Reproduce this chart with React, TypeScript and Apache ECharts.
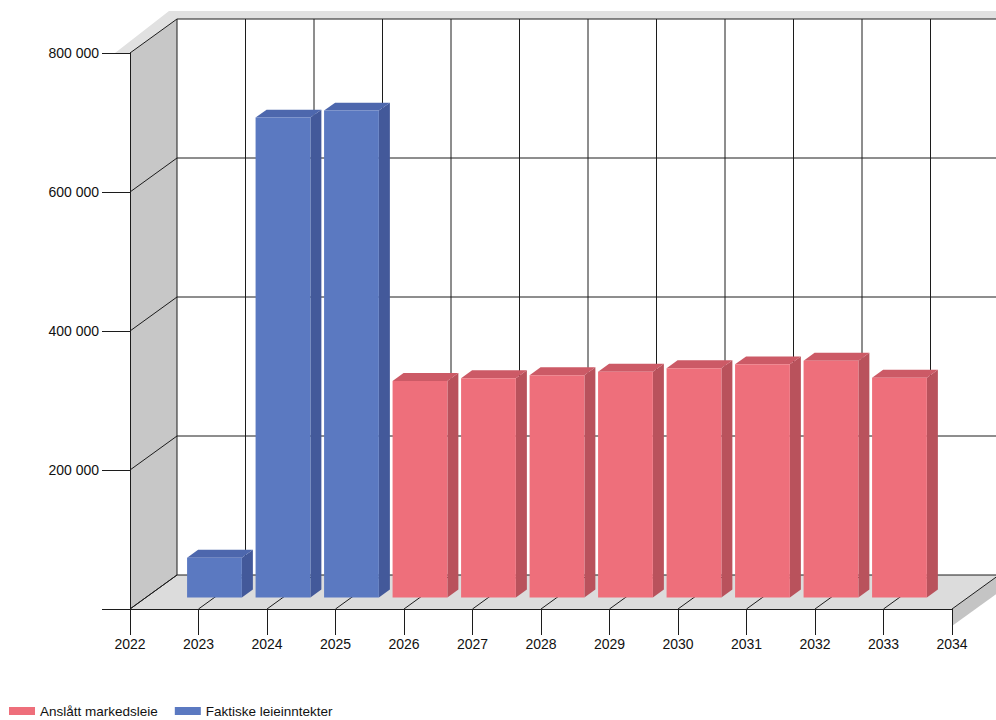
import React, { useEffect, useRef } from 'react';
import * as echarts from 'echarts';

// Year axis bounds and value axis ticks
const xMin = 2022;
const xMax = 2034;
const yMin = 0;
const yMax = 800000;
const yStep = 200000;

// Series values
const actualIncomeYears = [2023, 2024, 2025];
const actualIncome = [57000, 690400, 700500];
const marketRentYears = [2026, 2027, 2028, 2029, 2030, 2031, 2032, 2033];
const marketRent = [311400, 315300, 319600, 324800, 329700, 335400, 340600, 316100];

const seriesNames = ['Anslått markedsleie', 'Faktiske leieinntekter'];

// Pseudo-3D projection of the depth axis
const DEPTH_X = 47;
const DEPTH_Y = -34;
const BAR_FRONT = 0.34;
const BAR_BACK = 0.574;
const BAR_WIDTH = 0.8;

const LINE = '#1c1c1c';
const FONT = "'Liberation Sans', Arial, sans-serif";

const palette = {
  red: { front: '#ee6f7b', side: '#b9525c', top: '#cc5a66' },
  blue: { front: '#5b79c1', side: '#43599a', top: '#4d67ad' },
};

function formatThousands(v: number): string {
  if (v === 0) return '';
  return String(v).replace(/\B(?=(\d{3})+(?!\d))/g, ' ');
}

function rangeStep(a: number, b: number, s: number): number[] {
  const out: number[] = [];
  for (let v = a; v <= b + 1e-9; v += s) out.push(v);
  return out;
}

function renderFrame(_params: any, api: any) {
  const [x0, y0] = api.coord([xMin, yMin]);
  const [x1, yTop] = api.coord([xMax, yMax]);
  const children: any[] = [];
  const ln = (a: number[], b: number[]) => ({
    type: 'line',
    shape: { x1: a[0], y1: a[1], x2: b[0], y2: b[1] },
    style: { stroke: LINE, lineWidth: 1 },
  });

  // top rim of the walls
  children.push({
    type: 'polygon',
    shape: {
      points: [
        [x0 - 15, yTop],
        [x0, yTop],
        [x0 + DEPTH_X, yTop + DEPTH_Y],
        [x1 + DEPTH_X + 10, yTop + DEPTH_Y],
        [x1 + DEPTH_X + 10, yTop + DEPTH_Y - 8],
        [x0 + DEPTH_X - 8, yTop + DEPTH_Y - 8],
      ],
    },
    style: { fill: '#e1e1e1' },
  });
  // left wall
  children.push({
    type: 'polygon',
    shape: {
      points: [
        [x0, yTop],
        [x0 + DEPTH_X, yTop + DEPTH_Y],
        [x0 + DEPTH_X, y0 + DEPTH_Y],
        [x0, y0],
      ],
    },
    style: { fill: '#c7c7c7' },
  });
  // floor
  children.push({
    type: 'polygon',
    shape: {
      points: [
        [x0, y0],
        [x0 + DEPTH_X, y0 + DEPTH_Y],
        [x1 + DEPTH_X, y0 + DEPTH_Y],
        [x1, y0],
      ],
    },
    style: { fill: '#dcdcdc' },
  });
  // floor side thickness
  children.push({
    type: 'polygon',
    shape: {
      points: [
        [x1, y0],
        [x1 + DEPTH_X, y0 + DEPTH_Y],
        [x1 + DEPTH_X, y0 + DEPTH_Y + 17],
        [x1, y0 + 17],
      ],
    },
    style: { fill: '#c4c4c4' },
  });

  // back wall grid + left wall diagonals
  for (const v of rangeStep(yMin, yMax, yStep)) {
    const p = api.coord([xMin, v]);
    const q = api.coord([xMax, v]);
    children.push(ln([p[0] + DEPTH_X, p[1] + DEPTH_Y], [q[0] + DEPTH_X + 10, q[1] + DEPTH_Y]));
    children.push(ln(p, [p[0] + DEPTH_X, p[1] + DEPTH_Y]));
  }
  // back wall verticals + floor diagonals
  for (const yr of rangeStep(xMin, xMax, 1)) {
    const b = api.coord([yr, yMin]);
    const t = api.coord([yr, yMax]);
    children.push(ln([t[0] + DEPTH_X, t[1] + DEPTH_Y], [b[0] + DEPTH_X, b[1] + DEPTH_Y]));
    children.push(ln(b, [b[0] + DEPTH_X, b[1] + DEPTH_Y]));
  }
  return { type: 'group', children };
}

function makeBarRenderer(colors: { front: string; side: string; top: string }) {
  return (_params: any, api: any) => {
    const yr = api.value(0);
    const val = api.value(1);
    const base = api.coord([yr, 0]);
    const peak = api.coord([yr, val]);
    const w = api.size([1, 0])[0] * BAR_WIDTH;
    const fx = DEPTH_X * BAR_FRONT;
    const fy = DEPTH_Y * BAR_FRONT;
    const sx = DEPTH_X * (BAR_BACK - BAR_FRONT);
    const sy = DEPTH_Y * (BAR_BACK - BAR_FRONT);
    const L = base[0] - w / 2 + fx;
    const R = base[0] + w / 2 + fx;
    const B = base[1] + fy;
    const T = peak[1] + fy;
    return {
      type: 'group',
      children: [
        {
          type: 'polygon',
          shape: { points: [[R, T], [R + sx, T + sy], [R + sx, B + sy], [R, B]] },
          style: { fill: colors.side },
        },
        {
          type: 'polygon',
          shape: { points: [[L, T], [R, T], [R + sx, T + sy], [L + sx, T + sy]] },
          style: { fill: colors.top },
        },
        {
          type: 'rect',
          shape: { x: L, y: T, width: R - L, height: B - T },
          style: { fill: colors.front },
        },
      ],
    };
  };
}

export default function App() {
  const ref = useRef<HTMLDivElement>(null);

  useEffect(() => {
    document.body.style.margin = '0';
    if (!ref.current) return;
    const chart = echarts.init(ref.current, null, { renderer: 'svg' });

    const redData = marketRentYears.map((y, i) => [y, marketRent[i]]);
    const blueData = actualIncomeYears.map((y, i) => [y, actualIncome[i]]);

    chart.setOption({
      animation: false,
      backgroundColor: '#ffffff',
      grid: { left: 130, right: 44, top: 53, bottom: 111 },
      legend: {
        data: seriesNames,
        left: 9,
        top: 704,
        padding: 0,
        itemWidth: 26,
        itemHeight: 8,
        itemGap: 17,
        icon: 'rect',
        textStyle: { fontFamily: FONT, fontSize: 13.5, color: '#111' },
      },
      xAxis: {
        type: 'value',
        min: xMin,
        max: xMax,
        interval: 1,
        z: 10,
        axisLine: { show: true, lineStyle: { color: LINE, width: 1 } },
        axisTick: { show: true, length: 26, lineStyle: { color: LINE, width: 1 } },
        axisLabel: {
          margin: 28,
          fontFamily: FONT,
          fontSize: 14,
          color: '#111',
          formatter: (v: number) => String(v),
        },
        splitLine: { show: false },
      },
      yAxis: {
        type: 'value',
        min: yMin,
        max: yMax,
        interval: yStep,
        z: 10,
        axisLine: { show: true, lineStyle: { color: LINE, width: 1 } },
        axisTick: { show: true, length: 28, lineStyle: { color: LINE, width: 1 } },
        axisLabel: {
          margin: 31,
          fontFamily: FONT,
          fontSize: 14,
          color: '#111',
          formatter: formatThousands,
        },
        splitLine: { show: false },
      },
      series: [
        {
          name: 'frame',
          type: 'custom',
          silent: true,
          clip: false,
          z: 1,
          renderItem: renderFrame,
          data: [[xMin, yMin]],
        },
        {
          name: seriesNames[0],
          type: 'custom',
          z: 3,
          clip: false,
          itemStyle: { color: palette.red.front },
          renderItem: makeBarRenderer(palette.red),
          data: redData,
        },
        {
          name: seriesNames[1],
          type: 'custom',
          z: 3,
          clip: false,
          itemStyle: { color: palette.blue.front },
          renderItem: makeBarRenderer(palette.blue),
          data: blueData,
        },
      ],
    });

    return () => chart.dispose();
  }, []);

  return <div ref={ref} style={{ width: 996, height: 720 }} />;
}
